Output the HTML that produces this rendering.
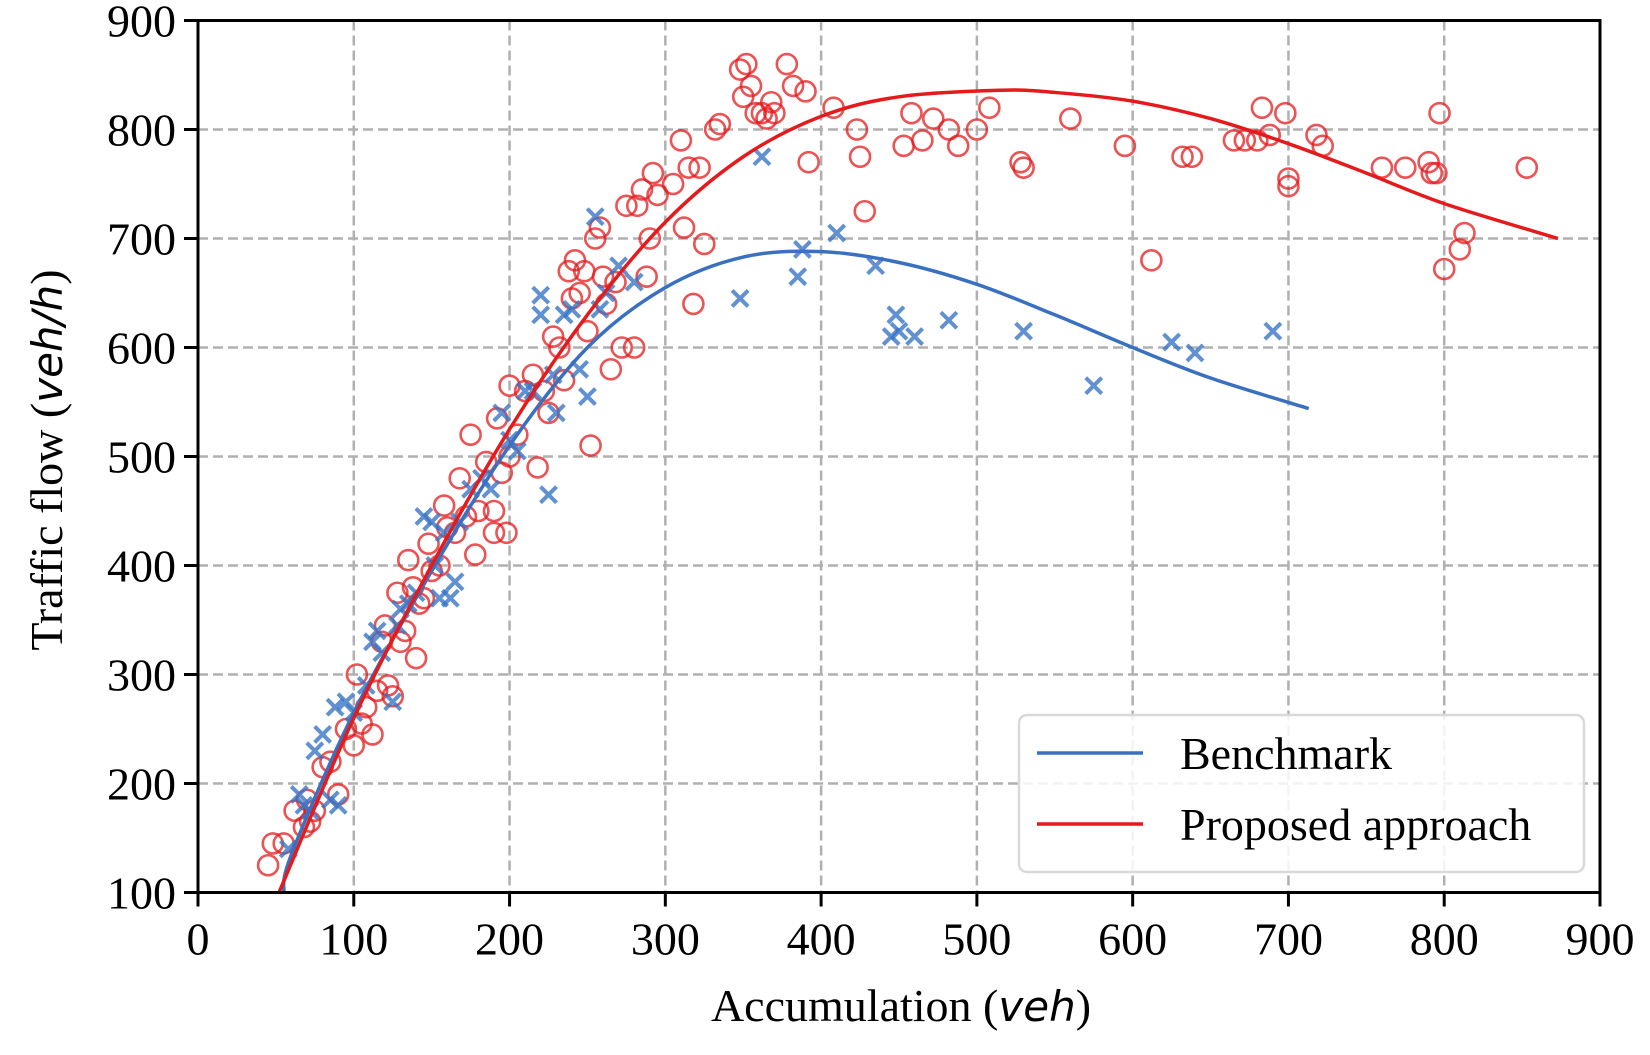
<!DOCTYPE html>
<html><head><meta charset="utf-8"><style>
body{margin:0;background:#fff}
svg text{font-family:"Liberation Serif",serif;fill:#000}
</style></head><body>
<svg id="chart" width="1650" height="1050" viewBox="0 0 1650 1050" xmlns="http://www.w3.org/2000/svg"></svg>
<script>
const xTicks=[0,100,200,300,400,500,600,700,800,900];
const yTicks=[100,200,300,400,500,600,700,800,900];
const benchCurveX=[55,60,100,150,200,250,300,350,400,450,500,550,600,650,713];
const benchCurveY=[100,135,265,395,510,600,655,683,688,678,658,630,600,572,544];
const propCurveX=[52,100,150,200,250,300,350,400,450,515,550,600,650,700,750,800,873];
const propCurveY=[100,260,400,525,630,715,775,812,830,836,834,826,810,787,760,732,700];
const redX=[45,48,55,62,68,70,72,75,80,85,90,95,100,102,105,108,112,115,118,120,122,125,128,130,133,135,138,140,142,145,148,150,155,158,160,165,168,172,175,178,180,185,190,190,192,195,198,200,200,205,210,215,218,222,225,228,232,235,238,240,242,245,248,250,252,255,258,260,262,265,268,272,275,280,282,285,288,290,292,295,305,310,312,315,318,322,325,332,335,348,350,352,355,358,362,365,368,370,378,382,390,392,408,423,425,428,453,458,465,472,482,488,500,508,528,530,560,595,612,632,638,665,672,680,683,688,698,700,700,718,722,760,775,790,792,795,797,800,810,813,853];
const redY=[125,145,145,175,160,185,165,175,215,220,190,250,235,300,255,270,245,285,330,345,290,280,375,330,340,405,380,315,365,370,420,395,400,455,435,430,480,445,520,410,450,495,450,430,535,485,430,500,565,520,560,575,490,560,540,610,600,570,670,645,680,650,670,615,510,700,710,665,640,580,660,600,730,600,730,745,665,700,760,740,750,790,710,765,640,765,695,800,805,855,830,860,840,815,815,810,825,815,860,840,835,770,820,800,775,725,785,815,790,810,800,785,800,820,770,765,810,785,680,775,775,790,790,790,820,795,815,755,748,795,785,765,765,770,760,760,815,672,690,705,765];
const blueX=[58,65,68,72,75,80,85,88,90,95,100,108,112,115,118,125,128,130,135,140,145,150,152,155,158,162,165,168,175,182,188,195,200,205,210,215,220,220,225,228,230,235,240,245,250,255,258,262,270,280,348,362,385,388,410,435,445,448,450,460,482,530,575,625,640,690];
const blueY=[140,190,180,175,230,245,185,270,180,275,265,290,330,340,320,275,345,360,365,375,445,440,400,370,430,370,385,440,470,480,470,540,515,505,560,560,648,630,465,575,540,630,635,580,555,720,635,650,675,660,645,775,665,690,705,675,610,630,615,610,625,615,565,605,595,615];

const L=198,R=1600,T=20.5,B=892.5;
const sx=v=>L+(v-0)/900*(R-L);
const sy=v=>B-(v-100)/800*(B-T);
const svg=document.getElementById('chart');
const NS='http://www.w3.org/2000/svg';
function mk(tag,attrs,parent){const e=document.createElementNS(NS,tag);for(const k in attrs)e.setAttribute(k,attrs[k]);(parent||svg).appendChild(e);return e;}

const grid=mk('g',{});


xTicks.forEach(t=>{if(t>0&&t<900){const l=mk('line',{x1:sx(t),x2:sx(t),y1:T,y2:B,stroke:'#b0b0b0','stroke-width':2.5,'stroke-dasharray':'10,5'},grid);

}});
yTicks.forEach(t=>{if(t>100&&t<900){const l=mk('line',{x1:L,x2:R,y1:sy(t),y2:sy(t),stroke:'#b0b0b0','stroke-width':2.5,'stroke-dasharray':'10,5'},grid);

}});

const reds=mk('g',{});


redX.forEach((x,i)=>{const c=mk('circle',{cx:sx(x),cy:sy(redY[i]),r:10,fill:'none',stroke:'#e41a1c','stroke-opacity':0.75,'stroke-width':2.6},reds);

});

const blues=mk('g',{});


blueX.forEach((x,i)=>{const cx=sx(x),cy=sy(blueY[i]),s=8;
const p=mk('path',{d:`M${cx-s},${cy-s}L${cx+s},${cy+s}M${cx-s},${cy+s}L${cx+s},${cy-s}`,stroke:'#3a75c4','stroke-opacity':0.8,'stroke-width':4,fill:'none'},blues);

});

function curve(xs,ys,color,name){
  const P=xs.map((x,i)=>[sx(x),sy(ys[i])]);
  let d='M'+P[0][0]+','+P[0][1];
  for(let i=0;i<P.length-1;i++){
    const p0=P[Math.max(0,i-1)],p1=P[i],p2=P[i+1],p3=P[Math.min(P.length-1,i+2)];
    const c1=[p1[0]+(p2[0]-p0[0])/6,p1[1]+(p2[1]-p0[1])/6];
    const c2=[p2[0]-(p3[0]-p1[0])/6,p2[1]-(p3[1]-p1[1])/6];
    d+=`C${c1[0]},${c1[1]} ${c2[0]},${c2[1]} ${p2[0]},${p2[1]}`;
  }
  const p=mk('path',{d:d,stroke:color,'stroke-width':3.5,fill:'none','stroke-linejoin':'round'});
  
  }
curve(benchCurveX,benchCurveY,'#3a70c0','benchmark-curve');
curve(propCurveX,propCurveY,'#e41a1c','proposed-curve');

const frame=mk('rect',{x:L,y:T,width:R-L,height:B-T,fill:'none',stroke:'#000','stroke-width':3});



xTicks.forEach(t=>{const l=mk('line',{x1:sx(t),x2:sx(t),y1:B,y2:B+14,stroke:'#000','stroke-width':3});


const tx=mk('text',{x:sx(t),y:B+62,'text-anchor':'middle','font-size':46});tx.textContent=t;

});
yTicks.forEach(t=>{const l=mk('line',{x1:L-14,x2:L,y1:sy(t),y2:sy(t),stroke:'#000','stroke-width':3});


const tx=mk('text',{x:L-22,y:sy(t)+16,'text-anchor':'end','font-size':46});tx.textContent=t;

});
</script>
<svg style="position:absolute;left:0;top:0" width="1650" height="1050">
<text x="901" y="1021" text-anchor="middle" font-size="46" style="font-family:'Liberation Serif',serif">Accumulation (<tspan font-size="42" style="font-family:'DejaVu Sans',sans-serif;font-style:italic">veh</tspan>)</text>
<text transform="translate(62,460) rotate(-90)" text-anchor="middle" font-size="46" style="font-family:'Liberation Serif',serif">Traffic flow (<tspan style="font-family:'DejaVu Sans',sans-serif;font-style:italic" font-size="42">veh/h</tspan>)</text>
<g>
<rect x="1019" y="715" width="565" height="157" rx="8" fill="#fff" fill-opacity="0.85" stroke="#d9d9d9" stroke-width="2.5"/>
<line x1="1037" x2="1143" y1="753" y2="753" stroke="#3a70c0" stroke-width="3.5"/>
<text x="1180" y="769" font-size="46" style="font-family:'Liberation Serif',serif">Benchmark</text>
<line x1="1037" x2="1143" y1="824" y2="824" stroke="#e41a1c" stroke-width="3.5"/>
<text x="1180" y="840" font-size="46" style="font-family:'Liberation Serif',serif">Proposed approach</text>
</g>
</svg>
</body></html>
